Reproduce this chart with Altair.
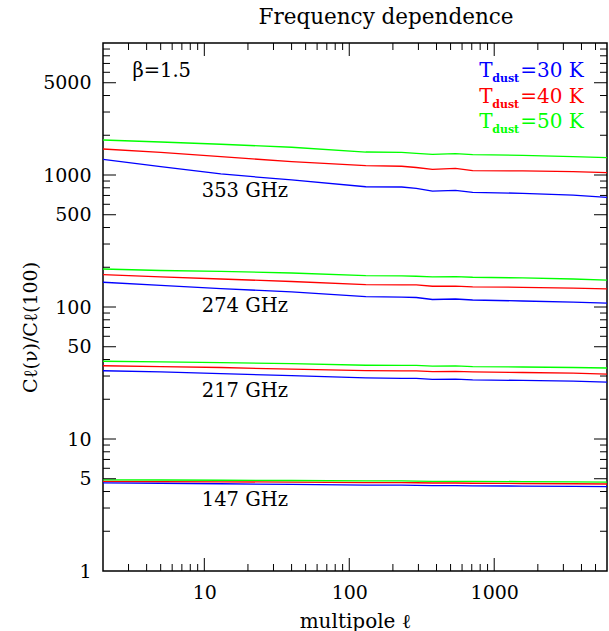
import altair as alt
import pandas as pd

# multipole grid (x)
ell = [2, 5, 13, 40, 130, 230, 290, 375, 540, 710, 1570, 3500, 6000]

# C_l(nu)/C_l(100)
f353_t30 = [1315, 1156, 1018, 917, 815, 811, 793, 756, 766, 739, 727, 705, 678]
f353_t40 = [1574, 1486, 1377, 1261, 1176, 1165, 1140, 1105, 1122, 1080, 1073, 1060, 1041]
f353_t50 = [1841, 1778, 1710, 1622, 1493, 1486, 1459, 1435, 1452, 1425, 1410, 1377, 1352]

f274_t30 = [154, 146, 138, 130, 120, 119, 118, 114, 115, 113, 111, 109, 107]
f274_t40 = [176, 169, 163, 156, 148, 147, 147, 143.6, 144, 142, 141, 139, 137]
f274_t50 = [194, 189, 186, 181, 173, 172, 171, 169, 170, 168, 166, 163, 160]

f217_t30 = [32.9, 32.2, 31.3, 30.2, 29.0, 28.8, 28.8, 28.3, 28.4, 28.0, 27.8, 27.4, 27.0]
f217_t40 = [35.9, 35.4, 34.8, 33.8, 33.0, 32.8, 32.8, 32.4, 32.5, 32.2, 31.9, 31.5, 31.0]
f217_t50 = [38.8, 38.4, 37.9, 37.2, 36.2, 36.1, 36.1, 35.7, 35.8, 35.4, 35.1, 34.8, 34.5]

f147_t30 = [4.65, 4.62, 4.58, 4.53, 4.48, 4.47, 4.46, 4.44, 4.44, 4.42, 4.40, 4.37, 4.35]
f147_t40 = [4.78, 4.76, 4.74, 4.71, 4.68, 4.67, 4.66, 4.64, 4.64, 4.62, 4.60, 4.58, 4.56]
f147_t50 = [4.91, 4.89, 4.87, 4.85, 4.82, 4.81, 4.80, 4.78, 4.78, 4.77, 4.76, 4.74, 4.72]

temps = ["30", "40", "50"]
temp_colors = ["#0000ff", "#ff0000", "#00ff00"]

# curve labels
band_labels = ["353 GHz", "274 GHz", "217 GHz", "147 GHz"]
band_label_ell = [9.6, 9.6, 9.6, 9.6]
band_label_val = [681, 91.6, 20.8, 3.13]

# legend
legend_ell = [788, 788, 788]
legend_val = [5525, 3511, 2270]
legend_rest = ["=30 K", "=40 K", "=50 K"]

# axis ticks
x_major = [10, 100, 1000]
x_minor = [3, 4, 5, 6, 7, 8, 9, 20, 30, 40, 50, 60, 70, 80, 90,
           200, 300, 400, 500, 600, 700, 800, 900, 2000, 3000, 4000, 5000]
y_major = [5, 10, 50, 100, 500, 1000, 5000]
y_minor = [2, 3, 4, 6, 7, 8, 9, 20, 30, 40, 60, 70, 80, 90,
           200, 300, 400, 600, 700, 800, 900, 2000, 3000, 4000, 6000, 7000, 8000, 9000]
y_labels = [1, 5, 10, 50, 100, 500, 1000, 5000]

series = [
    ("353", "30", f353_t30), ("353", "40", f353_t40), ("353", "50", f353_t50),
    ("274", "30", f274_t30), ("274", "40", f274_t40), ("274", "50", f274_t50),
    ("217", "30", f217_t30), ("217", "40", f217_t40), ("217", "50", f217_t50),
    ("147", "30", f147_t30), ("147", "40", f147_t40), ("147", "50", f147_t50),
]
rows = []
for freq, t, vals in series:
    for l, v in zip(ell, vals):
        rows.append({"ell": l, "val": v, "freq": freq, "temp": t, "key": freq + "_" + t})
df = pd.DataFrame(rows)

FONT = "DejaVu Serif"
W, H = 504, 528
xs = alt.Scale(type="log", domain=[2, 6000], nice=False)
ys = alt.Scale(type="log", domain=[1, 10000], nice=False)

x_axis = alt.Axis(values=x_major, format="d", ticks=False, domain=False, grid=False,
                  labelFont=FONT, labelFontSize=19, labelColor="black", labelPadding=12,
                  title="multipole ℓ", titleFont=FONT, titleFontSize=20,
                  titleFontWeight="normal", titleColor="black", titlePadding=9)
y_axis = alt.Axis(values=y_labels, format="d", ticks=False, domain=False, grid=False,
                  labelFont=FONT, labelFontSize=19, labelColor="black", labelPadding=12,
                  title="Cℓ(ν)/Cℓ(100)", titleFont=FONT, titleFontSize=19,
                  titleFontWeight="normal", titleColor="black",
                  titleX=-73, titleY=284, titleAngle=-90, titleBaseline="middle",
                  titleAlign="center")


def X(field):
    return alt.X(field, scale=xs, axis=x_axis)


def Y(field):
    return alt.Y(field, scale=ys, axis=y_axis)


tcolor = alt.Color("temp:N", scale=alt.Scale(domain=temps, range=temp_colors), legend=None)

lines = alt.Chart(df).mark_line(strokeWidth=1.3, clip=True).encode(
    x=X("ell:Q"), y=Y("val:Q"), color=tcolor, detail="key:N")


def rules_y(vals, length, right):
    d = pd.DataFrame({"v": vals})
    x0 = W if right else 0
    x1 = W - length if right else length
    return alt.Chart(d).mark_rule(color="black", strokeWidth=1).encode(
        y=Y("v:Q"), x=alt.value(x0), x2=alt.value(x1))


def rules_x(vals, length, top):
    d = pd.DataFrame({"v": vals})
    y0 = 0 if top else H
    y1 = length if top else H - length
    return alt.Chart(d).mark_rule(color="black", strokeWidth=1).encode(
        x=X("v:Q"), y=alt.value(y0), y2=alt.value(y1))


ticks = [
    rules_y(y_major, 13, False), rules_y(y_minor, 7, False),
    rules_y(y_major, 13, True), rules_y(y_minor, 7, True),
    rules_x(x_major, 13, False), rules_x(x_minor, 7, False),
    rules_x(x_major, 13, True), rules_x(x_minor, 7, True),
]

lab_df = pd.DataFrame({"ell": band_label_ell, "val": band_label_val, "text": band_labels})
band_text = alt.Chart(lab_df).mark_text(
    align="left", baseline="alphabetic", font=FONT, fontSize=19.5, color="black"
).encode(x=X("ell:Q"), y=Y("val:Q"), text="text:N")

beta_df = pd.DataFrame({"ell": [3.19], "val": [5525], "text": ["β=1.5"]})
beta_text = alt.Chart(beta_df).mark_text(
    align="left", baseline="alphabetic", font=FONT, fontSize=19.5, color="black"
).encode(x=X("ell:Q"), y=Y("val:Q"), text="text:N")

leg_df = pd.DataFrame({"ell": legend_ell, "val": legend_val, "rest": legend_rest,
                       "temp": temps, "T": ["T"] * 3, "sub": ["dust"] * 3})
leg_T = alt.Chart(leg_df).mark_text(
    align="left", baseline="alphabetic", font=FONT, fontSize=20
).encode(x=X("ell:Q"), y=Y("val:Q"), text="T:N", color=tcolor)
leg_sub = alt.Chart(leg_df).mark_text(
    align="left", baseline="alphabetic", font=FONT, fontSize=11, fontWeight="bold", dx=13, dy=5
).encode(x=X("ell:Q"), y=Y("val:Q"), text="sub:N", color=tcolor)
leg_rest = alt.Chart(leg_df).mark_text(
    align="left", baseline="alphabetic", font=FONT, fontSize=20, dx=41
).encode(x=X("ell:Q"), y=Y("val:Q"), text="rest:N", color=tcolor)

chart = alt.layer(lines, *ticks, band_text, beta_text, leg_T, leg_sub, leg_rest).properties(
    width=W, height=H,
    background="white",
    title=alt.TitleParams("Frequency dependence", font=FONT, fontSize=21.5, fontWeight="normal",
                          color="black", anchor="middle", dx=31, offset=14),
    autosize=alt.AutoSizeParams(type="none"),
    padding={"left": 103, "top": 43, "right": 2, "bottom": 60},
).configure_view(stroke="black", strokeWidth=1.5)

chart.save("out.html", embed_options={"renderer": "svg", "actions": False})
